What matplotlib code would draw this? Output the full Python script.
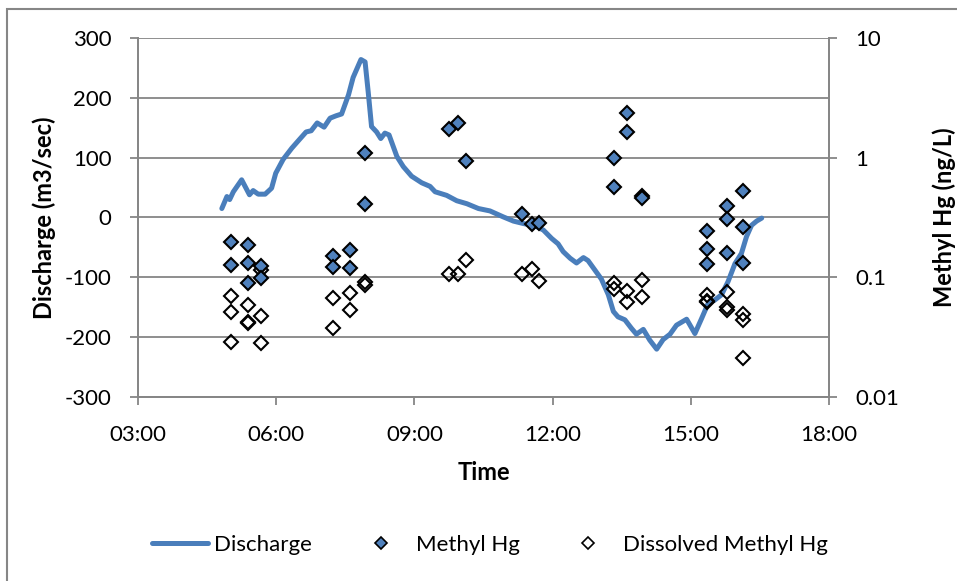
import matplotlib
matplotlib.use("Agg")
import matplotlib.pyplot as plt
from matplotlib.lines import Line2D
from matplotlib.patches import Rectangle
from matplotlib.ticker import FixedLocator, FuncFormatter, NullLocator

plt.rcParams['font.family'] = ['Lato', 'DejaVu Sans']
plt.rcParams['axes.unicode_minus'] = False

# discharge record (hours of day, m3/sec)
discharge_time = [4.82, 4.93, 4.99, 5.07, 5.25, 5.42, 5.50, 5.61, 5.76, 5.90, 5.99,
                  6.15, 6.34, 6.50, 6.65, 6.76, 6.89, 7.04, 7.17, 7.30, 7.42, 7.57,
                  7.67, 7.84, 7.93, 8.00, 8.07, 8.18, 8.27, 8.36, 8.45, 8.62, 8.76,
                  8.94, 9.16, 9.34, 9.45, 9.70, 9.92, 10.14, 10.39, 10.64, 10.93,
                  11.15, 11.36, 11.62, 11.80, 11.98, 12.12, 12.23, 12.38, 12.52,
                  12.67, 12.77, 12.92, 13.06, 13.21, 13.32, 13.42, 13.57, 13.71,
                  13.82, 13.97, 14.11, 14.26, 14.40, 14.55, 14.69, 14.91, 15.09,
                  15.24, 15.38, 15.52, 15.67, 15.81, 15.96, 16.10, 16.21, 16.32,
                  16.43, 16.54]
discharge = [15, 35, 30, 43, 63, 38, 45, 39, 39, 49, 74,
             97, 116, 130, 143, 145, 158, 151, 166, 170, 173, 205,
             234, 264, 260, 208, 152, 143, 132, 141, 138, 102, 85,
             69, 58, 52, 43, 37, 28, 23, 15, 11, 1,
             -6, -10, -14, -21, -35, -44, -57, -68, -76,
             -67, -72, -88, -103, -129, -157, -166, -171, -185,
             -195, -187, -205, -220, -204, -195, -180, -170, -194,
             -168, -143, -138, -129, -107, -77, -60, -32, -13,
             -6, -1]

# total methyl Hg samples (ng/L)
methyl_time = [5.01, 5.01, 5.38, 5.38, 5.38, 5.68, 5.68, 7.24, 7.24, 7.60, 7.60,
               7.93, 7.93, 9.76, 9.95, 10.11, 11.34, 11.56, 11.71, 13.33, 13.33,
               13.61, 13.61, 13.95, 13.95, 15.36, 15.36, 15.36, 15.78, 15.78,
               15.78, 16.13, 16.13, 16.13]
methyl_hg = [0.199, 0.128, 0.186, 0.132, 0.089, 0.124, 0.099, 0.151, 0.123, 0.169, 0.119,
             1.10, 0.407, 1.73, 1.94, 0.944, 0.338, 0.277, 0.287, 1.0, 0.573,
             2.38, 1.65, 0.479, 0.458, 0.245, 0.173, 0.129, 0.394, 0.308,
             0.161, 0.530, 0.265, 0.131]

# dissolved methyl Hg samples (ng/L)
dissolved_time = [5.01, 5.01, 5.01, 5.38, 5.38, 5.38, 5.68, 5.68, 5.68, 7.24, 7.24,
                  7.60, 7.60, 7.93, 7.93, 9.76, 9.95, 10.11, 11.34, 11.56, 11.71,
                  13.33, 13.33, 13.61, 13.61, 13.95, 13.95, 15.36, 15.36, 15.36,
                  15.78, 15.78, 15.78, 16.13, 16.13, 16.13]
dissolved_hg = [0.070, 0.0516, 0.029, 0.0588, 0.0426, 0.0415, 0.115, 0.0475, 0.0281,
                0.0668, 0.0375, 0.0736, 0.0533, 0.092, 0.086, 0.107, 0.107, 0.140,
                0.106, 0.117, 0.094, 0.089, 0.0794, 0.0769, 0.0618, 0.095, 0.068,
                0.0711, 0.0638, 0.062, 0.0759, 0.0569, 0.0533, 0.0494, 0.044, 0.0213]

time_ticks = [3, 6, 9, 12, 15, 18]

BLUE = '#4a7ebb'
GREY = '#868686'

fig = plt.figure(figsize=(9.57, 5.81), dpi=100)
ax = fig.add_axes([0.1442, 0.3167, 0.7220, 0.6179])
ax2 = ax.twinx()

ax.plot(discharge_time, discharge, color=BLUE, lw=3.6, solid_capstyle='round',
        solid_joinstyle='round')
ax.set_xlim(3, 18)
ax.set_ylim(-300, 300)
ax.set_yticks(range(-300, 301, 100))
ax.xaxis.set_major_locator(FixedLocator(time_ticks))
ax.xaxis.set_major_formatter(FuncFormatter(lambda v, p: f"{int(v):02d}:00"))
ax.grid(axis='y', color=GREY, lw=1.3)
ax.set_axisbelow(True)

ax2.plot(dissolved_time, dissolved_hg, ls='none', marker='D', ms=7,
         mfc='none', mec='black', mew=1.5)
ax2.plot(methyl_time, methyl_hg, ls='none', marker='D', ms=7,
         mfc='#4f81bd', mec='black', mew=1.5)
ax2.set_yscale('log')
ax2.set_ylim(0.01, 10)
ax2.yaxis.set_major_locator(FixedLocator([0.01, 0.1, 1, 10]))
ax2.yaxis.set_major_formatter(FuncFormatter(lambda v, p: f"{v:g}"))
ax2.yaxis.set_minor_locator(NullLocator())

for a in (ax, ax2):
    for s in a.spines.values():
        s.set_color(GREY)
        s.set_linewidth(1.3)
    a.spines['top'].set_visible(False)
    a.tick_params(colors=GREY, labelcolor='black', labelsize=16, width=1.3, length=6)
ax.tick_params(axis='y', pad=13)
ax.tick_params(axis='x', pad=14)
ax2.tick_params(axis='y', pad=13)

ax.set_xlabel("Time", fontsize=17, fontweight='bold', labelpad=12)
ax.set_ylabel("Discharge (m3/sec)", fontsize=17, fontweight='bold', labelpad=6)
ax2.set_ylabel("Methyl Hg (ng/L)", fontsize=17, fontweight='bold', labelpad=24)

handles = [
    Line2D([], [], color=BLUE, lw=3.6, solid_capstyle='round'),
    Line2D([], [], ls='none', marker='D', ms=6, mfc='#4f81bd', mec='black', mew=1.2),
    Line2D([], [], ls='none', marker='D', ms=6, mfc='none', mec='black', mew=1.2),
]
fig.legend(handles, ["Discharge", "Methyl Hg", "Dissolved Methyl Hg"],
           loc='center', bbox_to_anchor=(0.512, 1 - 545 / 581), ncol=3,
           frameon=False, fontsize=16, handlelength=2.5, handletextpad=0.3,
           columnspacing=1.85)

# chart area border
fig.patches.append(Rectangle((7 / 957, -0.1), 1.2, 1 - 9 / 581 + 0.1,
                             transform=fig.transFigure, fill=False,
                             edgecolor=GREY, lw=1.5))

fig.savefig("out.png", dpi=100)
